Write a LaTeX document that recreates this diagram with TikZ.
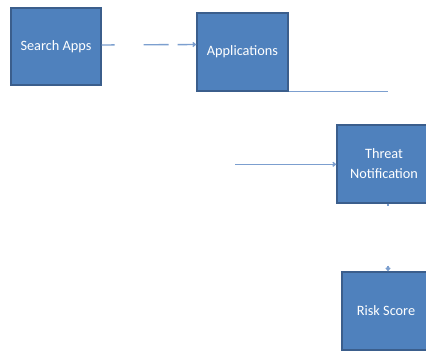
\documentclass[tikz,border=0pt]{standalone}
\usepackage{fontspec}
\setmainfont{Carlito}
\usetikzlibrary{arrows.meta}
\definecolor{boxfill}{HTML}{4F81BD}
\definecolor{boxedge}{HTML}{3B5E8C}
\definecolor{linkblue}{HTML}{7C9FCF}
\tikzset{
  box/.style={draw=boxedge, line width=1.2pt, fill=boxfill, text=white,
    align=center, inner sep=0pt, font=\fontsize{14.3}{20}\selectfont},
  link/.style={draw=linkblue, line width=1.4pt},
  tip/.style={-{Straight Barb[length=2.5pt,width=4pt]}}
}
\begin{document}
\begin{tikzpicture}[x=1pt,y=1pt]
\useasboundingbox (0,0) rectangle (426,-351);
\fill[white] (0,0) rectangle (426,-351);

% process boxes
\node[box, minimum width=90pt, minimum height=77pt] (search) at (56,-46.5) {Search Apps};
\node[box, minimum width=91pt, minimum height=78pt] (apps) at (242.5,-52) {Applications};
\node[box, minimum width=94pt, minimum height=78pt] (threat) at (384,-164) {Threat\\Notification};
\node[box, minimum width=88pt, minimum height=78pt] (risk) at (386,-311) {Risk Score};

% loose ends of the connectors
\coordinate (appsEnd) at (388,-91);
\coordinate (threatIn) at (235,-164.3);
\coordinate (threatDot) at (388,-205.5);
\coordinate (riskIn) at (388,-265.5);

% connectors
\draw[link, tip, dash pattern=on 13pt off 29pt on 25pt off 9pt on 30pt]
  (search.east |- 0,-45) -- (apps.west |- 0,-44.5);
\draw[link] (apps.south east) -- (apps.south east -| appsEnd);
\draw[link, tip] (threatIn) -- (threat.west |- threatIn);
\draw[link] (threat.south -| threatDot) -- (threatDot);
\draw[link, tip] (riskIn) -- (risk.north -| riskIn);
\end{tikzpicture}
\end{document}
